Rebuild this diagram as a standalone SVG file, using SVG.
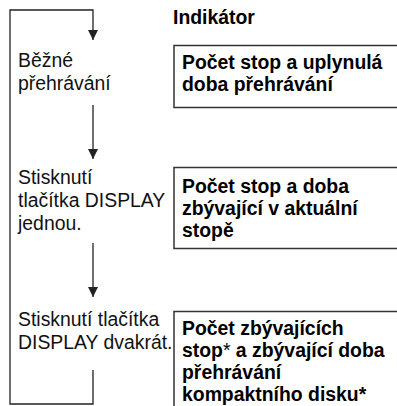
<svg xmlns="http://www.w3.org/2000/svg" width="397" height="406" viewBox="0 0 397 406">
<style>
.t{font-family:"Liberation Sans",Arial,sans-serif;font-size:19.4px;fill:#111}
.b{font-family:"Liberation Sans",Arial,sans-serif;font-size:19.4px;font-weight:bold;fill:#000}
.box{fill:#fff;stroke:#333;stroke-width:1.5}
.ln{fill:none;stroke:#222;stroke-width:1.3}
</style>
<defs>
<marker id="ah" viewBox="0 0 10 10" refX="10" refY="5" markerWidth="10" markerHeight="10" markerUnits="userSpaceOnUse" orient="auto">
<path d="M0,0 L10,5 L0,10 Z" fill="#222"/>
</marker>
</defs>
<rect width="397" height="406" fill="#fff"/>
<g id="connectors">
<path class="ln" d="M93,370 V404 H10 V10 H93 V40" marker-end="url(#ah)"/>
<path class="ln" d="M93,105 V159" marker-end="url(#ah)"/>
<path class="ln" d="M93,243 V297" marker-end="url(#ah)"/>
</g>
<g id="header"><text class="b" x="173" y="24">Indikátor</text></g>
<g id="step1">
<text class="t" x="18" y="67">Běžné</text>
<text class="t" x="18" y="90">přehrávání</text>
</g>
<g id="step2">
<text class="t" x="18" y="184">Stisknutí</text>
<text class="t" x="18" y="207">tlačítka DISPLAY</text>
<text class="t" x="18" y="230">jednou.</text>
</g>
<g id="step3">
<text class="t" x="18" y="326">Stisknutí tlačítka</text>
<text class="t" x="18" y="349">DISPLAY dvakrát.</text>
</g>
<g id="ind1">
<rect class="box" x="174" y="45.5" width="240" height="62"/>
<text class="b" x="182" y="69">Počet stop a uplynulá</text>
<text class="b" x="182" y="91">doba přehrávání</text>
</g>
<g id="ind2">
<rect class="box" x="174" y="167.5" width="240" height="81"/>
<text class="b" x="182" y="193">Počet stop a doba</text>
<text class="b" x="182" y="215">zbývající v aktuální</text>
<text class="b" x="182" y="237">stopě</text>
</g>
<g id="ind3">
<rect class="box" x="174" y="311.5" width="240" height="110"/>
<text class="b" x="182" y="335">Počet zbývajících</text>
<text class="b" x="182" y="357">stop<tspan font-weight="normal">*</tspan> a zbývající doba</text>
<text class="b" x="182" y="379">přehrávání</text>
<text class="b" x="182" y="401">kompaktního disku*</text>
</g>
</svg>
